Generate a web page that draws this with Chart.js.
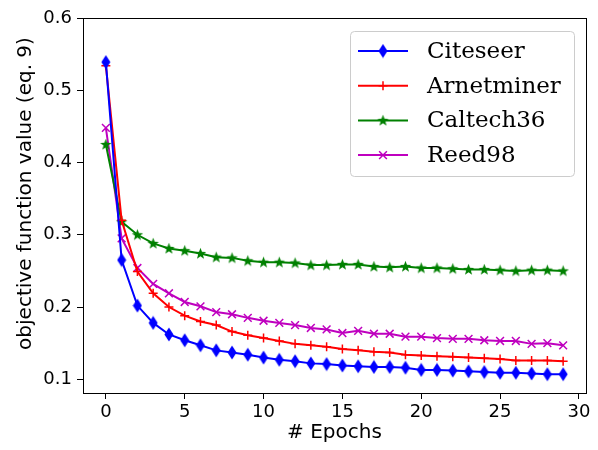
<!DOCTYPE html>
<html>
<head>
<meta charset="utf-8">
<script src="https://cdn.jsdelivr.net/npm/chart.js@4.4.1/dist/chart.umd.min.js"></script>
<style>
  html, body { margin: 0; padding: 0; background: #fff; }
</style>
</head>
<body>
<canvas id="myChart" width="598" height="450"></canvas>
<script>
var epochs = [0,1,2,3,4,5,6,7,8,9,10,11,12,13,14,15,16,17,18,19,20,21,22,23,24,25,26,27,28,29]
var citeseer = [0.539,0.265,0.202,0.178,0.162,0.154,0.147,0.140,0.137,0.134,0.130,0.127,0.125,0.122,0.121,0.119,0.118,0.117,0.117,0.116,0.113,0.113,0.112,0.111,0.110,0.109,0.109,0.108,0.107,0.107]
var arnetminer = [0.534,0.320,0.249,0.219,0.200,0.188,0.180,0.175,0.166,0.161,0.157,0.153,0.149,0.147,0.145,0.142,0.140,0.138,0.137,0.134,0.133,0.132,0.131,0.130,0.129,0.128,0.126,0.126,0.126,0.125]
var caltech36 = [0.425,0.318,0.300,0.288,0.281,0.278,0.274,0.269,0.268,0.264,0.262,0.262,0.261,0.258,0.258,0.259,0.259,0.256,0.255,0.256,0.254,0.254,0.253,0.252,0.252,0.251,0.250,0.251,0.251,0.250]
var reed98 = [0.448,0.295,0.254,0.232,0.219,0.207,0.201,0.193,0.190,0.185,0.181,0.178,0.175,0.171,0.169,0.164,0.167,0.163,0.163,0.159,0.159,0.157,0.156,0.156,0.154,0.153,0.153,0.149,0.150,0.147]
var seriesNames = ["Citeseer", "Arnetminer", "Caltech36", "Reed98"]
var xTicks = [0,5,10,15,20,25,30]
var yTicks = [0.1,0.2,0.3,0.4,0.5,0.6]
var xTitle = "# Epochs"
var yTitle = "objective function value (eq. 9)"

// matplotlib-like marker shapes that chart.js doesn't have
function thinDiamond(color) {
    var c = document.createElement("canvas")
    c.width = 10; c.height = 15
    var g = c.getContext("2d")
    g.fillStyle = color
    g.beginPath()
    g.moveTo(5, 0.5); g.lineTo(9.5, 7.5); g.lineTo(5, 14.5); g.lineTo(0.5, 7.5)
    g.closePath()
    g.fill()
    return c
}
function filledStar(color) {
    var c = document.createElement("canvas")
    c.width = 13; c.height = 13
    var g = c.getContext("2d")
    g.fillStyle = color
    g.beginPath()
    for (let i = 0; i < 10; i++) {
        var r = i % 2 == 0 ? 6 : 2.5
        var a = -Math.PI / 2 + i * Math.PI / 5
        var px = 6.5 + r * Math.cos(a), py = 6.8 + r * Math.sin(a)
        if (i == 0) g.moveTo(px, py); else g.lineTo(px, py)
    }
    g.closePath()
    g.fill()
    return c
}

function toPoints(arr) {
    return arr.map(function (v, i) { return { x: epochs[i], y: v } })
}

var colors = ["#0000ff", "#ff0000", "#008000", "#bf00bf"]
var styles = [thinDiamond(colors[0]), "cross", filledStar(colors[2]), "crossRot"]
var radii = [5, 4.5, 6, 5.5]
var values = [citeseer, arnetminer, caltech36, reed98]

var datasets = []
for (let i = 0; i < values.length; i++) {
    datasets.push({
        label: seriesNames[i],
        data: toPoints(values[i]),
        borderColor: colors[i],
        backgroundColor: colors[i],
        borderWidth: 2,
        pointStyle: styles[i],
        pointRadius: radii[i],
        pointBorderWidth: 1.5,
        pointBorderColor: colors[i],
        pointBackgroundColor: colors[i],
        tension: 0
    })
}

var framePlugin = {
    id: "frame",
    afterDatasetsDraw(chart) {
        var a = chart.chartArea, ctx = chart.ctx
        ctx.save()
        ctx.strokeStyle = "#000"
        ctx.lineWidth = 1
        ctx.strokeRect(Math.round(a.left) + 0.5, Math.round(a.top) + 0.5, Math.round(a.right - a.left), Math.round(a.bottom - a.top))
        ctx.restore()
    }
}

// y label sits a little above the middle of the axis in the original
var yTitlePlugin = {
    id: "yTitle",
    afterDraw(chart) {
        var ctx = chart.ctx, a = chart.chartArea
        ctx.save()
        ctx.translate(31, (a.top + a.bottom) / 2 - 12)
        ctx.rotate(-Math.PI / 2)
        ctx.fillStyle = "#000"
        ctx.font = '20px "DejaVu Sans"'
        ctx.textAlign = "center"
        ctx.textBaseline = "alphabetic"
        ctx.fillText(yTitle, 0, 0)
        ctx.restore()
    }
}

var legendPlugin = {
    id: "boxLegend",
    afterDraw(chart) {
        var a = chart.chartArea, ctx = chart.ctx
        var w = 224, h = 145
        var bx = a.right - 12 - w, by = a.top + 13
        ctx.save()
        ctx.beginPath()
        ctx.roundRect(bx + 0.5, by + 0.5, w, h, 4)
        ctx.fillStyle = "rgba(255,255,255,0.8)"
        ctx.fill()
        ctx.strokeStyle = "#cccccc"
        ctx.lineWidth = 1
        ctx.stroke()
        chart.data.datasets.forEach(function (ds, i) {
            var y = by + 20 + i * 34.7
            ctx.strokeStyle = ds.borderColor
            ctx.fillStyle = ds.borderColor
            ctx.lineWidth = 2
            ctx.beginPath()
            ctx.moveTo(bx + 8, y); ctx.lineTo(bx + 58, y)
            ctx.stroke()
            ctx.lineWidth = 1.5
            Chart.helpers.drawPoint(ctx, { pointStyle: ds.pointStyle, radius: ds.pointRadius, borderWidth: 1.5, rotation: 0 }, bx + 33, y)
            ctx.fillStyle = "#000"
            ctx.font = '23px "DejaVu Serif"'
            ctx.textBaseline = "middle"
            ctx.fillText(ds.label, bx + 77, y + 1)
        })
        ctx.restore()
    }
}

var tickFont = { family: '"DejaVu Sans"', size: 18 }

new Chart("myChart", {
    type: "line",
    data: { datasets: datasets },
    plugins: [framePlugin, yTitlePlugin, legendPlugin],
    options: {
        responsive: false,
        animation: false,
        layout: { padding: { left: 0, right: 12, top: 18, bottom: 0 } },
        plugins: { legend: { display: false }, tooltip: { enabled: false } },
        scales: {
            x: {
                type: "linear",
                min: -1.45,
                max: 30.45,
                afterBuildTicks: function (s) { s.ticks = xTicks.map(function (v) { return { value: v } }) },
                afterFit: function (s) { s.height = 57 },
                grid: { drawOnChartArea: false, tickLength: 6, tickColor: "#000", tickWidth: 1 },
                border: { display: true, color: "#000" },
                ticks: { color: "#000", font: tickFont, padding: 3, maxRotation: 0 },
                title: { display: true, text: xTitle, color: "#000", font: { family: '"DejaVu Sans"', size: 20 }, padding: { top: 0, bottom: 5 } }
            },
            y: {
                min: 0.081,
                max: 0.6,
                afterBuildTicks: function (s) { s.ticks = yTicks.map(function (v) { return { value: v } }) },
                afterFit: function (s) { s.width = 83 },
                grid: { drawOnChartArea: false, tickLength: 6, tickColor: "#000", tickWidth: 1 },
                border: { display: true, color: "#000" },
                ticks: { color: "#000", font: tickFont, padding: 5, callback: function (v) { return v.toFixed(1) } },
                title: { display: false }
            }
        }
    }
})
</script>
</body>
</html>
